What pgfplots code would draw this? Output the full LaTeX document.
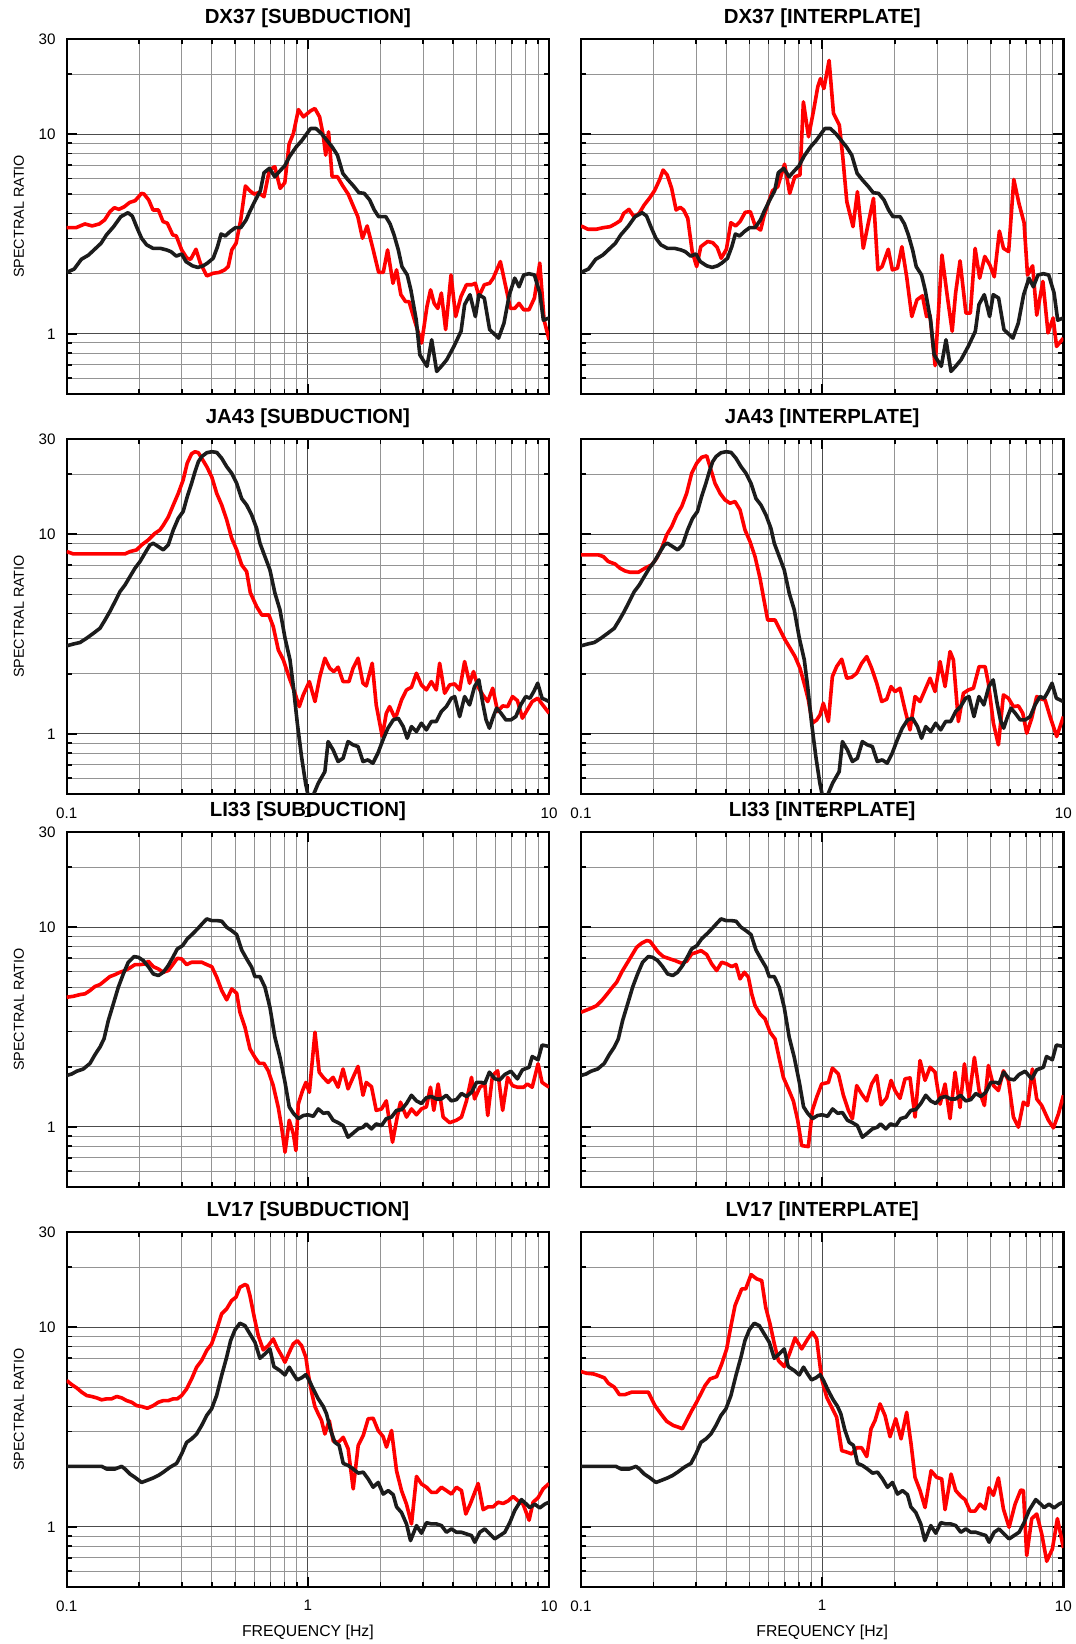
\documentclass[border=0pt]{standalone}
\usepackage{fontspec}
\setmainfont{Liberation Sans}
\usepackage{pgfplots}
\usepackage{pgfplotstable}
\pgfplotsset{compat=1.18}
\definecolor{curvered}{RGB}{255,0,0}
\definecolor{curveblack}{RGB}{28,28,28}

% ---------------- Row 1: DX37 ----------------
\pgfplotstableread[row sep=\\]{x y\\
0.100 2.03\\ 0.1074 2.11\\ 0.115 2.36\\ 0.1232 2.48\\ 0.1319 2.68\\ 0.1388 2.84\\ 0.1462 3.13\\ 0.1565 3.44\\ 0.1676 3.86\\ 0.1794 4.04\\
0.187 3.89\\ 0.1954 3.41\\ 0.2044 3.01\\ 0.2144 2.79\\ 0.2279 2.68\\ 0.2441 2.68\\ 0.2596 2.63\\ 0.2704 2.58\\ 0.2847 2.45\\ 0.2997 2.51\\
0.3122 2.30\\ 0.3321 2.19\\ 0.3495 2.15\\ 0.368 2.19\\ 0.3834 2.26\\ 0.405 2.39\\ 0.4219 2.73\\ 0.4365 3.16\\ 0.4548 3.09\\ 0.4754 3.25\\
0.5004 3.40\\ 0.5268 3.40\\ 0.5546 3.72\\ 0.5739 4.09\\ 0.6039 4.64\\ 0.6356 5.21\\ 0.6578 6.41\\ 0.6924 6.74\\ 0.729 6.12\\ 0.7673 6.56\\
0.8022 6.95\\ 0.8414 7.76\\ 0.8949 8.64\\ 0.9419 9.26\\ 0.9915 10.08\\ 1.026 10.67\\ 1.08 10.67\\ 1.137 10.08\\ 1.197 9.33\\ 1.26 8.64\\
1.326 7.85\\ 1.396 6.36\\ 1.469 5.89\\ 1.546 5.50\\ 1.628 5.09\\ 1.713 5.05\\ 1.804 4.68\\ 1.885 4.17\\ 1.965 3.86\\ 2.104 3.86\\
2.192 3.55\\ 2.276 3.13\\ 2.371 2.63\\ 2.454 2.17\\ 2.582 1.97\\ 2.672 1.66\\ 2.814 1.17\\ 2.911 0.785\\ 3.117 0.687\\ 3.26 0.933\\
3.42 0.648\\ 3.575 0.687\\ 3.763 0.741\\ 4.03 0.864\\ 4.315 1.03\\ 4.465 1.40\\ 4.699 1.57\\ 4.946 1.22\\ 5.117 1.57\\ 5.387 1.51\\
5.669 1.05\\ 6.174 0.951\\ 6.5 1.13\\ 6.842 1.57\\ 7.203 1.90\\ 7.505 1.72\\ 7.846 1.97\\ 8.258 2.0\\ 8.692 1.97\\ 9.149 1.60\\
9.469 1.17\\ 10 1.20\\
}\bA
\pgfplotstableread[row sep=\\]{x y\\
0.100 3.40\\ 0.1093 3.40\\ 0.119 3.55\\ 0.1275 3.47\\ 0.1365 3.55\\ 0.1437 3.72\\ 0.1512 4.09\\ 0.1576 4.28\\ 0.1647 4.20\\ 0.1734 4.33\\
0.1825 4.55\\ 0.1921 4.64\\ 0.2044 5.05\\ 0.2093 5.01\\ 0.2188 4.68\\ 0.2279 4.17\\ 0.2400 4.17\\ 0.2508 3.65\\ 0.2614 3.58\\ 0.2751 3.13\\
0.2847 3.09\\ 0.2997 2.63\\ 0.3154 2.39\\ 0.3265 2.36\\ 0.3436 2.65\\ 0.358 2.26\\ 0.3808 1.95\\ 0.405 2.01\\ 0.4292 2.03\\ 0.4517 2.09\\
0.4673 2.17\\ 0.4836 2.63\\ 0.5039 2.84\\ 0.5268 3.72\\ 0.5508 5.50\\ 0.5739 5.21\\ 0.598 5.01\\ 0.6248 5.09\\ 0.6578 4.86\\ 0.6924 6.61\\
0.729 6.87\\ 0.7673 5.35\\ 0.8022 5.71\\ 0.8356 8.91\\ 0.8708 10.08\\ 0.9135 13.28\\ 0.9581 12.21\\ 1.026 13.08\\ 1.069 13.44\\ 1.118 12.21\\
1.157 9.89\\ 1.185 7.85\\ 1.218 10.27\\ 1.26 6.12\\ 1.326 6.12\\ 1.396 5.50\\ 1.469 5.01\\ 1.546 4.33\\ 1.611 3.86\\ 1.684 3.01\\
1.761 3.47\\ 1.866 2.63\\ 1.965 2.03\\ 2.054 2.03\\ 2.14 2.63\\ 2.253 1.79\\ 2.331 2.09\\ 2.429 1.57\\ 2.539 1.45\\ 2.627 1.45\\
2.766 1.17\\ 2.961 0.898\\ 3.117 1.37\\ 3.226 1.66\\ 3.339 1.42\\ 3.455 1.34\\ 3.575 1.60\\ 3.725 1.05\\ 3.921 1.97\\ 4.099 1.22\\
4.315 1.54\\ 4.542 1.76\\ 4.78 1.76\\ 4.946 1.79\\ 5.117 1.54\\ 5.387 1.76\\ 5.669 1.79\\ 5.866 1.90\\ 6.281 2.30\\ 6.612 1.72\\
6.912 1.34\\ 7.203 1.34\\ 7.505 1.42\\ 7.846 1.32\\ 8.258 1.32\\ 8.692 1.51\\ 9.149 2.26\\ 9.533 1.17\\ 10 0.933\\
}\rAs
\pgfplotstableread[row sep=\\]{x y\\
0.100 3.47\\ 0.1068 3.34\\ 0.1158 3.34\\ 0.1236 3.40\\ 0.132 3.44\\ 0.1386 3.55\\ 0.1456 3.69\\ 0.1504 4.01\\ 0.158 4.20\\ 0.1659 3.86\\
0.1742 4.01\\ 0.1829 4.42\\ 0.1921 4.77\\ 0.2018 5.21\\ 0.212 5.93\\ 0.219 6.61\\ 0.2278 6.24\\ 0.2376 5.35\\ 0.2479 4.17\\ 0.2578 4.30\\
0.2663 4.17\\ 0.2771 3.79\\ 0.2891 2.58\\ 0.3016 2.17\\ 0.3137 2.73\\ 0.3349 2.90\\ 0.3516 2.86\\ 0.3668 2.71\\ 0.3815 2.39\\ 0.4007 2.65\\
0.4181 3.60\\ 0.4377 3.47\\ 0.4566 3.65\\ 0.4795 4.06\\ 0.5036 4.09\\ 0.5289 3.44\\ 0.5555 3.31\\ 0.574 3.89\\ 0.5988 4.55\\ 0.6227 5.21\\
0.654 5.45\\ 0.6982 7.08\\ 0.7334 5.05\\ 0.77 6.12\\ 0.8088 6.24\\ 0.8356 14.51\\ 0.8776 9.70\\ 0.9216 13.18\\ 0.9585 17.25\\ 0.9838 18.98\\
1.0165 16.92\\ 1.068 23.4\\ 1.114 12.69\\ 1.178 11.09\\ 1.217 7.70\\ 1.265 4.59\\ 1.342 3.44\\ 1.40 5.15\\ 1.48 2.68\\ 1.554 3.60\\
1.632 4.77\\ 1.702 2.09\\ 1.771 2.17\\ 1.879 2.65\\ 1.954 2.09\\ 2.052 2.13\\ 2.14 2.73\\ 2.24 1.93\\ 2.352 1.22\\ 2.471 1.48\\
2.604 1.55\\ 2.708 1.22\\ 2.798 1.24\\ 2.939 0.692\\ 3.137 2.48\\ 3.295 1.57\\ 3.459 1.03\\ 3.574 1.60\\ 3.729 2.32\\ 3.943 1.27\\
4.114 1.27\\ 4.305 2.68\\ 4.495 1.90\\ 4.721 2.44\\ 4.955 2.21\\ 5.168 1.93\\ 5.428 3.27\\ 5.645 2.68\\ 5.929 2.58\\ 6.228 5.93\\
6.541 4.50\\ 6.87 3.60\\ 7.099 1.97\\ 7.455 2.19\\ 7.754 1.24\\ 8.221 1.83\\ 8.635 1.01\\ 9.068 1.20\\ 9.368 0.864\\ 10 0.951\\
}\rAi

% ---------------- Row 2: JA43 ----------------
\pgfplotstableread[row sep=\\]{x y\\
0.100 2.76\\ 0.1066 2.82\\ 0.1136 2.87\\ 0.121 3.015\\ 0.129 3.19\\ 0.1374 3.38\\ 0.1442 3.72\\ 0.151 4.10\\ 0.1586 4.60\\ 0.1663 5.16\\
0.1745 5.57\\ 0.183 6.14\\ 0.192 6.76\\ 0.2014 7.30\\ 0.211 8.03\\ 0.2214 8.84\\ 0.2285 9.01\\ 0.240 8.67\\ 0.2515 8.35\\ 0.2637 8.84\\
0.2766 10.5\\ 0.290 12.0\\ 0.304 13.0\\ 0.316 15.4\\ 0.3295 18.0\\ 0.3405 20.6\\ 0.3516 23.1\\ 0.3631 24.5\\ 0.3808 25.6\\ 0.3994 25.9\\
0.4189 25.7\\ 0.4393 24.0\\ 0.4607 21.8\\ 0.4831 20.2\\ 0.5067 18.0\\ 0.5314 15.1\\ 0.5573 14.0\\ 0.5844 12.5\\ 0.613 10.7\\ 0.6329 9.01\\
0.6637 7.73\\ 0.696 6.63\\ 0.7299 5.07\\ 0.766 4.18\\ 0.804 3.015\\ 0.843 2.348\\ 0.8705 1.726\\ 0.904 1.131\\ 0.941 0.770\\ 0.978 0.566\\
1.004 0.485\\ 1.035 0.47\\ 1.104 0.566\\ 1.176 0.647\\ 1.213 0.915\\ 1.272 0.832\\ 1.334 0.727\\ 1.399 0.755\\ 1.467 0.915\\ 1.539 0.881\\
1.614 0.864\\ 1.692 0.727\\ 1.774 0.741\\ 1.860 0.713\\ 1.951 0.80\\ 2.047 0.933\\ 2.147 1.068\\ 2.259 1.175\\ 2.369 1.198\\ 2.484 1.088\\
2.581 0.951\\ 2.688 1.088\\ 2.818 1.027\\ 2.955 1.131\\ 3.099 1.047\\ 3.249 1.153\\ 3.407 1.153\\ 3.575 1.294\\ 3.749 1.370\\ 3.933 1.509\\
4.06 1.538\\ 4.257 1.221\\ 4.464 1.538\\ 4.681 1.397\\ 4.908 1.726\\ 5.114 1.865\\ 5.31 1.424\\ 5.48 1.175\\ 5.656 1.068\\ 5.837 1.198\\
6.06 1.345\\ 6.318 1.269\\ 6.62 1.175\\ 6.94 1.175\\ 7.28 1.221\\ 7.63 1.397\\ 8.0 1.538\\ 8.33 1.509\\ 8.64 1.63\\ 8.97 1.794\\
9.35 1.509\\ 10 1.452\\
}\bB
\pgfplotstableread[row sep=\\]{x y\\
0.100 8.19\\ 0.1066 7.97\\ 0.1745 7.97\\ 0.183 8.19\\ 0.195 8.35\\ 0.2045 8.84\\ 0.218 9.37\\ 0.232 10.1\\ 0.2435 10.5\\ 0.2515 11.1\\
0.2637 12.2\\ 0.2766 14.0\\ 0.290 16.0\\ 0.304 18.7\\ 0.316 22.7\\ 0.3295 25.3\\ 0.3405 25.9\\ 0.3516 25.6\\ 0.3631 24.0\\ 0.3808 21.8\\
0.3994 19.4\\ 0.4189 16.0\\ 0.4393 14.0\\ 0.4607 11.8\\ 0.4831 9.55\\ 0.5067 8.35\\ 0.5314 7.02\\ 0.5573 6.50\\ 0.577 5.10\\ 0.613 4.34\\
0.644 3.94\\ 0.689 3.94\\ 0.7183 3.45\\ 0.754 2.635\\ 0.791 2.348\\ 0.843 1.865\\ 0.884 1.598\\ 0.921 1.370\\ 0.9566 1.568\\ 1.014 1.828\\
1.070 1.452\\ 1.121 1.937\\ 1.176 2.393\\ 1.232 2.133\\ 1.280 2.052\\ 1.334 2.158\\ 1.399 1.828\\ 1.480 1.828\\ 1.539 2.133\\ 1.614 2.393\\
1.692 1.794\\ 1.746 1.739\\ 1.848 2.259\\ 1.920 1.397\\ 2.034 0.97\\ 2.114 1.269\\ 2.182 1.370\\ 2.281 1.221\\ 2.332 1.245\\ 2.445 1.480\\
2.564 1.661\\ 2.688 1.712\\ 2.818 2.013\\ 2.955 1.759\\ 3.099 1.661\\ 3.249 1.828\\ 3.407 1.661\\ 3.518 2.259\\ 3.690 1.598\\ 3.87 1.759\\
4.06 1.78\\ 4.257 1.661\\ 4.464 2.303\\ 4.681 1.794\\ 4.861 2.052\\ 5.066 1.726\\ 5.31 1.568\\ 5.567 1.452\\ 5.837 1.693\\ 6.12 1.294\\
6.419 1.381\\ 6.73 1.370\\ 7.05 1.538\\ 7.39 1.469\\ 7.75 1.198\\ 8.12 1.319\\ 8.51 1.452\\ 8.97 1.509\\ 9.41 1.397\\ 10 1.269\\
}\rBs
\pgfplotstableread[row sep=\\]{x y\\
0.100 7.88\\ 0.118 7.88\\ 0.1238 7.73\\ 0.1298 7.30\\ 0.1384 7.10\\ 0.1451 6.76\\ 0.1522 6.55\\ 0.1597 6.45\\ 0.1729 6.45\\ 0.1842 6.76\\
0.1963 7.02\\ 0.2059 7.58\\ 0.216 8.51\\ 0.2266 9.92\\ 0.2377 10.93\\ 0.2494 12.5\\ 0.2615 13.76\\ 0.2743 16.05\\ 0.2877 20.2\\ 0.3018 22.7\\
0.3165 24.3\\ 0.332 24.7\\ 0.3427 21.8\\ 0.3594 18.0\\ 0.3771 16.05\\ 0.3955 14.86\\ 0.4149 14.3\\ 0.4351 14.58\\ 0.4564 13.24\\ 0.4786 10.5\\
0.5021 9.19\\ 0.5266 7.73\\ 0.5524 6.02\\ 0.5702 4.87\\ 0.5943 3.72\\ 0.6374 3.72\\ 0.6686 3.32\\ 0.7013 2.96\\ 0.7356 2.69\\ 0.7716 2.44\\
0.8093 2.13\\ 0.8489 1.726\\ 0.8762 1.48\\ 0.9103 1.131\\ 0.9489 1.175\\ 0.9795 1.245\\ 1.011 1.424\\ 1.061 1.153\\ 1.102 1.937\\ 1.148 2.174\\
1.205 2.366\\ 1.264 1.90\\ 1.326 1.922\\ 1.39 2.013\\ 1.458 2.259\\ 1.53 2.44\\ 1.604 2.13\\ 1.683 1.794\\ 1.765 1.452\\ 1.851 1.492\\
1.93 1.726\\ 2.004 1.629\\ 2.102 1.693\\ 2.205 1.319\\ 2.313 1.047\\ 2.426 1.538\\ 2.545 1.452\\ 2.669 1.661\\ 2.80 1.90\\ 2.937 1.629\\
3.081 2.303\\ 3.231 1.726\\ 3.389 2.584\\ 3.499 2.348\\ 3.67 1.153\\ 3.85 1.598\\ 4.038 1.661\\ 4.236 1.693\\ 4.472 2.174\\ 4.735 2.174\\
4.887 1.794\\ 5.126 1.131\\ 5.377 0.881\\ 5.64 1.568\\ 5.916 1.509\\ 6.205 1.37\\ 6.509 1.381\\ 6.785 1.269\\ 7.046 1.008\\ 7.391 1.198\\
7.753 1.538\\ 8.132 1.492\\ 8.395 1.48\\ 8.806 1.221\\ 9.383 0.97\\ 10 1.221\\
}\rBi

% ---------------- Row 3: LI33 ----------------
\pgfplotstableread[row sep=\\]{x y\\
0.100 1.81\\ 0.1049 1.84\\ 0.110 1.90\\ 0.1172 1.95\\ 0.1249 2.08\\ 0.131 2.30\\ 0.1374 2.51\\ 0.1428 2.76\\ 0.1488 3.41\\ 0.1561 4.13\\
0.1637 5.01\\ 0.1717 5.84\\ 0.1801 6.68\\ 0.1901 7.13\\ 0.1982 7.07\\ 0.2078 6.81\\ 0.218 6.35\\ 0.2285 5.84\\ 0.240 5.73\\ 0.2515 5.95\\
0.2637 6.43\\ 0.2766 7.13\\ 0.2875 7.79\\ 0.3024 8.09\\ 0.316 8.74\\ 0.3348 9.33\\ 0.3516 9.92\\ 0.366 10.47\\ 0.3808 11.01\\ 0.3994 10.80\\
0.4189 10.80\\ 0.4393 10.72\\ 0.4607 10.0\\ 0.4831 9.62\\ 0.5067 9.19\\ 0.5314 7.70\\ 0.5573 6.94\\ 0.5844 6.31\\ 0.603 5.66\\ 0.6329 5.66\\
0.6637 5.01\\ 0.696 3.97\\ 0.7299 2.81\\ 0.766 2.23\\ 0.804 1.67\\ 0.837 1.26\\ 0.8705 1.17\\ 0.912 1.10\\ 0.9566 1.14\\ 1.0 1.15\\
1.053 1.13\\ 1.104 1.23\\ 1.159 1.17\\ 1.213 1.18\\ 1.272 1.08\\ 1.334 1.05\\ 1.399 1.015\\ 1.467 0.888\\ 1.539 0.930\\ 1.614 0.977\\
1.692 0.996\\ 1.746 1.035\\ 1.835 0.977\\ 1.920 1.035\\ 2.02 1.015\\ 2.114 1.10\\ 2.222 1.12\\ 2.332 1.21\\ 2.445 1.22\\ 2.564 1.31\\
2.688 1.44\\ 2.818 1.35\\ 2.955 1.31\\ 3.099 1.40\\ 3.249 1.42\\ 3.407 1.38\\ 3.575 1.38\\ 3.749 1.44\\ 3.933 1.35\\ 4.13 1.37\\
4.333 1.47\\ 4.545 1.42\\ 4.768 1.49\\ 5.0 1.67\\ 5.245 1.67\\ 5.414 1.65\\ 5.656 1.88\\ 5.957 1.74\\ 6.247 1.72\\ 6.551 1.83\\
6.94 1.90\\ 7.39 1.74\\ 7.75 1.93\\ 8.26 1.99\\ 8.51 2.25\\ 9.0 2.17\\ 9.35 2.57\\ 10 2.53\\
}\bC
\pgfplotstableread[row sep=\\]{x y\\
0.100 4.46\\ 0.1066 4.51\\ 0.1136 4.60\\ 0.1191 4.64\\ 0.1249 4.82\\ 0.131 5.05\\ 0.1374 5.16\\ 0.1442 5.41\\ 0.151 5.66\\ 0.1586 5.79\\
0.1663 5.95\\ 0.1745 6.07\\ 0.183 6.26\\ 0.192 6.50\\ 0.2014 6.50\\ 0.211 6.55\\ 0.218 6.76\\ 0.2285 6.35\\ 0.240 6.18\\ 0.2515 5.95\\
0.2637 6.07\\ 0.2766 6.55\\ 0.2875 6.99\\ 0.2996 6.94\\ 0.3142 6.50\\ 0.3295 6.68\\ 0.3457 6.68\\ 0.3631 6.68\\ 0.3808 6.50\\ 0.3994 6.35\\
0.4189 5.62\\ 0.4393 4.82\\ 0.4607 4.33\\ 0.4831 4.91\\ 0.5067 4.67\\ 0.5226 3.75\\ 0.5483 3.16\\ 0.5752 2.46\\ 0.603 2.23\\ 0.6284 2.08\\
0.6572 2.08\\ 0.6849 1.91\\ 0.7183 1.61\\ 0.754 1.25\\ 0.7781 0.996\\ 0.804 0.747\\ 0.837 1.08\\ 0.8705 0.922\\ 0.8918 0.761\\ 0.912 1.30\\
0.9504 1.52\\ 0.981 1.67\\ 1.014 1.49\\ 1.070 2.98\\ 1.114 1.88\\ 1.158 1.77\\ 1.213 1.67\\ 1.272 1.77\\ 1.334 1.58\\ 1.399 1.95\\
1.467 1.55\\ 1.539 1.77\\ 1.614 2.01\\ 1.692 1.44\\ 1.746 1.67\\ 1.835 1.59\\ 1.920 1.21\\ 2.02 1.23\\ 2.114 1.35\\ 2.243 0.838\\
2.346 1.12\\ 2.42 1.33\\ 2.564 1.12\\ 2.688 1.23\\ 2.818 1.15\\ 2.955 1.23\\ 3.099 1.26\\ 3.223 1.58\\ 3.327 1.21\\ 3.467 1.64\\
3.637 1.12\\ 3.87 1.05\\ 4.13 1.08\\ 4.333 1.12\\ 4.545 1.35\\ 4.768 1.77\\ 4.908 1.38\\ 5.162 1.58\\ 5.414 1.64\\ 5.567 1.14\\
5.825 1.81\\ 6.12 1.91\\ 6.419 1.21\\ 6.73 1.77\\ 7.05 1.61\\ 7.39 1.58\\ 7.85 1.58\\ 8.12 1.64\\ 8.51 1.58\\ 9.0 2.07\\
9.35 1.67\\ 10 1.58\\
}\rCs
\pgfplotstableread[row sep=\\]{x y\\
0.100 3.75\\ 0.1056 3.85\\ 0.1107 3.94\\ 0.1161 4.05\\ 0.1218 4.29\\ 0.1278 4.60\\ 0.134 4.95\\ 0.1405 5.30\\ 0.1474 5.95\\ 0.1546 6.55\\
0.1622 7.21\\ 0.1701 7.94\\ 0.1784 8.32\\ 0.1872 8.57\\ 0.1932 8.51\\ 0.1995 8.09\\ 0.2093 7.49\\ 0.2194 7.13\\ 0.2339 6.94\\ 0.2454 6.81\\
0.2615 6.60\\ 0.2743 6.76\\ 0.2877 7.35\\ 0.3018 7.49\\ 0.3146 7.64\\ 0.332 7.30\\ 0.3483 6.55\\ 0.3652 6.07\\ 0.3831 6.68\\ 0.4018 6.55\\
0.4215 6.35\\ 0.4393 6.50\\ 0.4564 5.51\\ 0.4757 5.95\\ 0.4943 5.62\\ 0.5102 4.64\\ 0.5266 4.05\\ 0.5524 3.68\\ 0.5794 3.48\\ 0.6077 2.98\\
0.6374 2.76\\ 0.6622 2.23\\ 0.6902 1.77\\ 0.724 1.55\\ 0.7594 1.35\\ 0.7914 1.08\\ 0.8222 0.806\\ 0.8762 0.797\\ 0.9103 1.21\\ 0.9489 1.41\\
0.9952 1.64\\ 1.061 1.67\\ 1.102 1.97\\ 1.167 1.84\\ 1.224 1.44\\ 1.284 1.21\\ 1.334 1.10\\ 1.39 1.61\\ 1.458 1.46\\ 1.53 1.35\\
1.604 1.64\\ 1.683 1.81\\ 1.754 1.29\\ 1.851 1.40\\ 1.93 1.71\\ 2.004 1.52\\ 2.102 1.39\\ 2.205 1.74\\ 2.313 1.76\\ 2.426 1.12\\
2.545 2.15\\ 2.669 1.71\\ 2.80 1.99\\ 2.937 1.88\\ 3.081 1.30\\ 3.231 1.64\\ 3.389 1.10\\ 3.555 1.88\\ 3.728 1.25\\ 3.887 2.07\\
4.064 1.40\\ 4.276 2.23\\ 4.472 1.52\\ 4.704 1.28\\ 4.887 2.03\\ 5.126 1.61\\ 5.377 1.52\\ 5.64 1.91\\ 5.916 1.71\\ 6.205 1.12\\
6.509 0.996\\ 6.826 1.33\\ 7.115 1.28\\ 7.438 1.95\\ 7.753 1.38\\ 8.132 1.28\\ 8.668 1.08\\ 9.09 0.989\\ 9.535 1.16\\ 10 1.44\\
}\rCi

% ---------------- Row 4: LV17 ----------------
\pgfplotstableread[row sep=\\]{x y\\
0.100 2.01\\ 0.110 2.01\\ 0.121 2.01\\ 0.1331 2.01\\ 0.1396 2.01\\ 0.1465 1.95\\ 0.1586 1.95\\ 0.169 2.01\\ 0.1745 1.95\\ 0.183 1.84\\
0.192 1.77\\ 0.2045 1.67\\ 0.218 1.72\\ 0.2286 1.76\\ 0.2398 1.81\\ 0.2515 1.88\\ 0.268 1.99\\ 0.2856 2.08\\ 0.2996 2.32\\ 0.3142 2.65\\
0.3296 2.76\\ 0.3457 2.92\\ 0.3626 3.22\\ 0.3803 3.61\\ 0.3989 3.90\\ 0.4184 4.55\\ 0.4388 5.73\\ 0.4603 7.07\\ 0.4782 8.57\\ 0.4985 9.70\\
0.5226 10.47\\ 0.5483 10.19\\ 0.5751 9.26\\ 0.6033 8.41\\ 0.6327 6.99\\ 0.6635 7.35\\ 0.6959 7.79\\ 0.723 6.35\\ 0.7656 6.07\\ 0.8032 5.77\\
0.837 6.31\\ 0.8695 5.84\\ 0.9033 5.45\\ 0.9415 5.58\\ 0.981 5.79\\ 1.013 5.41\\ 1.052 4.91\\ 1.104 4.38\\ 1.158 4.01\\ 1.195 3.68\\
1.241 3.06\\ 1.294 2.65\\ 1.348 2.56\\ 1.401 2.08\\ 1.469 2.03\\ 1.541 1.95\\ 1.617 1.86\\ 1.696 1.88\\ 1.778 1.74\\ 1.865 1.58\\
1.956 1.67\\ 2.052 1.46\\ 2.153 1.52\\ 2.258 1.45\\ 2.331 1.26\\ 2.444 1.18\\ 2.563 1.035\\ 2.663 0.854\\ 2.82 1.015\\ 2.958 0.930\\
3.102 1.05\\ 3.253 1.035\\ 3.413 1.035\\ 3.58 1.015\\ 3.754 0.940\\ 3.938 0.977\\ 4.13 0.94\\ 4.333 0.94\\ 4.545 0.922\\ 4.767 0.905\\
4.92 0.838\\ 5.162 0.94\\ 5.413 0.977\\ 5.677 0.922\\ 5.955 0.871\\ 6.246 0.905\\ 6.552 0.94\\ 6.871 1.05\\ 7.207 1.21\\ 7.68 1.37\\
8.054 1.30\\ 8.316 1.25\\ 8.722 1.30\\ 9.148 1.245\\ 9.594 1.30\\ 10 1.33\\
}\bD
\pgfplotstableread[row sep=\\]{x y\\
0.100 5.41\\ 0.1049 5.16\\ 0.110 4.97\\ 0.1154 4.73\\ 0.121 4.55\\ 0.1269 4.50\\ 0.1331 4.43\\ 0.1396 4.33\\ 0.1465 4.38\\ 0.1536 4.38\\
0.1611 4.50\\ 0.169 4.43\\ 0.1773 4.29\\ 0.186 4.21\\ 0.195 4.05\\ 0.2045 4.01\\ 0.2159 3.93\\ 0.2286 4.05\\ 0.2398 4.21\\ 0.2515 4.29\\
0.2637 4.29\\ 0.2767 4.38\\ 0.2875 4.38\\ 0.2996 4.55\\ 0.3142 4.91\\ 0.3296 5.51\\ 0.3457 6.31\\ 0.3626 6.81\\ 0.3803 7.64\\ 0.3989 8.25\\
0.4184 9.70\\ 0.4388 11.67\\ 0.4603 12.36\\ 0.4829 13.60\\ 0.5032 14.14\\ 0.5226 15.86\\ 0.5483 16.36\\ 0.5606 16.17\\ 0.5751 14.41\\ 0.5994 11.22\\
0.6227 9.08\\ 0.6531 7.70\\ 0.6849 8.09\\ 0.7184 8.74\\ 0.7463 7.88\\ 0.7781 7.21\\ 0.8032 6.68\\ 0.837 7.49\\ 0.8695 8.25\\ 0.9033 8.57\\
0.9415 8.09\\ 0.981 7.07\\ 1.003 5.84\\ 1.036 4.73\\ 1.069 4.01\\ 1.104 3.68\\ 1.139 3.41\\ 1.176 2.92\\ 1.226 3.41\\ 1.274 2.69\\
1.336 2.65\\ 1.401 2.81\\ 1.469 2.46\\ 1.541 1.55\\ 1.617 2.56\\ 1.696 2.87\\ 1.778 3.48\\ 1.865 3.50\\ 1.956 3.04\\ 2.052 2.83\\
2.118 2.51\\ 2.222 3.04\\ 2.331 1.91\\ 2.444 1.52\\ 2.563 1.30\\ 2.689 1.035\\ 2.82 1.79\\ 2.958 1.64\\ 3.102 1.58\\ 3.253 1.49\\
3.413 1.49\\ 3.58 1.58\\ 3.754 1.52\\ 3.938 1.46\\ 4.13 1.58\\ 4.333 1.52\\ 4.516 1.16\\ 4.721 1.31\\ 5.08 1.65\\ 5.328 1.22\\
5.588 1.26\\ 5.861 1.26\\ 6.148 1.33\\ 6.448 1.31\\ 6.764 1.35\\ 7.093 1.42\\ 7.439 1.35\\ 7.803 1.30\\ 8.262 1.08\\ 8.584 1.33\\
9.004 1.40\\ 9.443 1.55\\ 10 1.65\\
}\rDs
\pgfplotstableread[row sep=\\]{x y\\
0.100 6.00\\ 0.1056 5.88\\ 0.1125 5.84\\ 0.118 5.73\\ 0.125 5.58\\ 0.1298 5.24\\ 0.1375 5.01\\ 0.1442 4.60\\ 0.1522 4.60\\ 0.1622 4.73\\
0.1729 4.73\\ 0.1902 4.73\\ 0.2027 4.05\\ 0.2146 3.68\\ 0.2266 3.38\\ 0.2415 3.22\\ 0.2533 3.16\\ 0.2632 3.10\\ 0.2743 3.41\\ 0.2877 3.82\\
0.2988 4.13\\ 0.3114 4.55\\ 0.3267 5.10\\ 0.3427 5.51\\ 0.3652 5.66\\ 0.3831 6.55\\ 0.4018 7.79\\ 0.4149 9.62\\ 0.4351 12.84\\ 0.4637 15.56\\
0.4817 15.56\\ 0.5071 18.36\\ 0.535 17.47\\ 0.5613 17.13\\ 0.5831 12.60\\ 0.6077 10.39\\ 0.6334 8.25\\ 0.6581 6.81\\ 0.6968 6.35\\ 0.7356 7.49\\
0.7716 8.84\\ 0.8222 7.79\\ 0.8707 8.74\\ 0.9103 9.44\\ 0.9489 8.74\\ 0.9952 5.51\\ 1.044 4.46\\ 1.095 3.97\\ 1.148 3.54\\ 1.205 2.41\\
1.264 2.37\\ 1.326 2.32\\ 1.39 2.49\\ 1.458 2.49\\ 1.53 2.25\\ 1.594 3.10\\ 1.656 3.41\\ 1.737 4.13\\ 1.822 3.61\\ 1.911 2.83\\
2.018 3.48\\ 2.123 2.76\\ 2.24 3.75\\ 2.336 2.60\\ 2.426 1.77\\ 2.545 1.52\\ 2.669 1.25\\ 2.827 1.91\\ 2.985 1.77\\ 3.13 1.74\\
3.231 1.22\\ 3.422 1.84\\ 3.578 1.52\\ 3.764 1.42\\ 3.911 1.37\\ 4.102 1.20\\ 4.302 1.20\\ 4.512 1.30\\ 4.733 1.23\\ 4.917 1.57\\
5.126 1.44\\ 5.377 1.76\\ 5.64 1.23\\ 5.954 0.996\\ 6.305 1.30\\ 6.655 1.53\\ 6.826 1.52\\ 7.046 0.719\\ 7.391 1.10\\ 7.753 1.16\\
8.132 0.922\\ 8.53 0.673\\ 9.003 0.776\\ 9.444 1.10\\ 10 0.785\\
}\rDi

\pgfplotsset{
 every axis title/.style={at={(axis description cs:0.5,1.0592)}, anchor=center, font=\fontsize{10.2}{12}\selectfont\bfseries},
 every axis/.append style={
  xmode=log, ymode=log, scale only axis,
  width=241.2pt, height=177.5pt,
  xmin=0.1, xmax=10, ymin=0.5, ymax=30,
  xtick={0.1,1,10}, xticklabels={0.1,1,10},
  minor xtick={0.2,0.3,0.4,0.5,0.6,0.7,0.8,0.9,2,3,4,5,6,7,8,9},
  ytick={1,10,30}, yticklabels={1,10,30},
  minor ytick={0.6,0.7,0.8,0.9,2,3,4,5,6,7,8,9,20},
  grid=both,
  major grid style={draw=black!70, line width=0.6pt},
  minor grid style={draw=black!42, line width=0.45pt},
  tick align=inside,
  major tick length=5pt, minor tick length=2.6pt,
  tick style={black, line width=0.8pt},
  axis line style={black, line width=1.1pt},
  tick label style={font=\fontsize{7.6}{9}\selectfont},
  yticklabel style={xshift=-2pt},
  xticklabel style={yshift=-3.2pt},
  xlabel style={at={(axis description cs:0.5,-0.1268)}, anchor=center, font=\fontsize{7.9}{9}\selectfont},
  ylabel style={at={(axis description cs:-0.0988,0.5)}, anchor=center, font=\fontsize{7.2}{9}\selectfont},
 },
 every axis plot/.append style={line width=1.8pt, line join=round, mark=none},
}

\begin{document}
\begin{tikzpicture}
\path[use as bounding box] (0pt,0pt) rectangle (538pt,822pt);
% Row 1
\begin{axis}[xticklabels={,,}, at={(33.35pt,625.05pt)}, anchor=south west,
  title={DX37 [SUBDUCTION]}, ylabel={SPECTRAL RATIO}]
 \addplot[curvered] table {\rAs};
 \addplot[curveblack] table {\bA};
\end{axis}
\begin{axis}[xticklabels={,,}, yticklabels={,,}, at={(290.5pt,625.05pt)}, anchor=south west,
  title={DX37 [INTERPLATE]}]
 \addplot[curvered] table {\rAi};
 \addplot[curveblack] table {\bA};
\end{axis}
% Row 2
\begin{axis}[at={(33.35pt,425pt)}, anchor=south west,
  title={JA43 [SUBDUCTION]}, ylabel={SPECTRAL RATIO}]
 \addplot[curvered] table {\rBs};
 \addplot[curveblack] table {\bB};
\end{axis}
\begin{axis}[yticklabels={,,}, at={(290.5pt,425pt)}, anchor=south west,
  title={JA43 [INTERPLATE]}]
 \addplot[curvered] table {\rBi};
 \addplot[curveblack] table {\bB};
\end{axis}
% Row 3
\begin{axis}[xticklabels={,,}, at={(33.35pt,228.5pt)}, anchor=south west,
  title={LI33 [SUBDUCTION]}, ylabel={SPECTRAL RATIO}]
 \addplot[curvered] table {\rCs};
 \addplot[curveblack] table {\bC};
\end{axis}
\begin{axis}[xticklabels={,,}, yticklabels={,,}, at={(290.5pt,228.5pt)}, anchor=south west,
  title={LI33 [INTERPLATE]}]
 \addplot[curvered] table {\rCi};
 \addplot[curveblack] table {\bC};
\end{axis}
% Row 4
\begin{axis}[at={(33.35pt,28.5pt)}, anchor=south west,
  title={LV17 [SUBDUCTION]}, ylabel={SPECTRAL RATIO}, xlabel={FREQUENCY [Hz]}]
 \addplot[curvered] table {\rDs};
 \addplot[curveblack] table {\bD};
\end{axis}
\begin{axis}[yticklabels={,,}, at={(290.5pt,28.5pt)}, anchor=south west,
  title={LV17 [INTERPLATE]}, xlabel={FREQUENCY [Hz]}]
 \addplot[curvered] table {\rDi};
 \addplot[curveblack] table {\bD};
\end{axis}
\end{tikzpicture}
\end{document}
